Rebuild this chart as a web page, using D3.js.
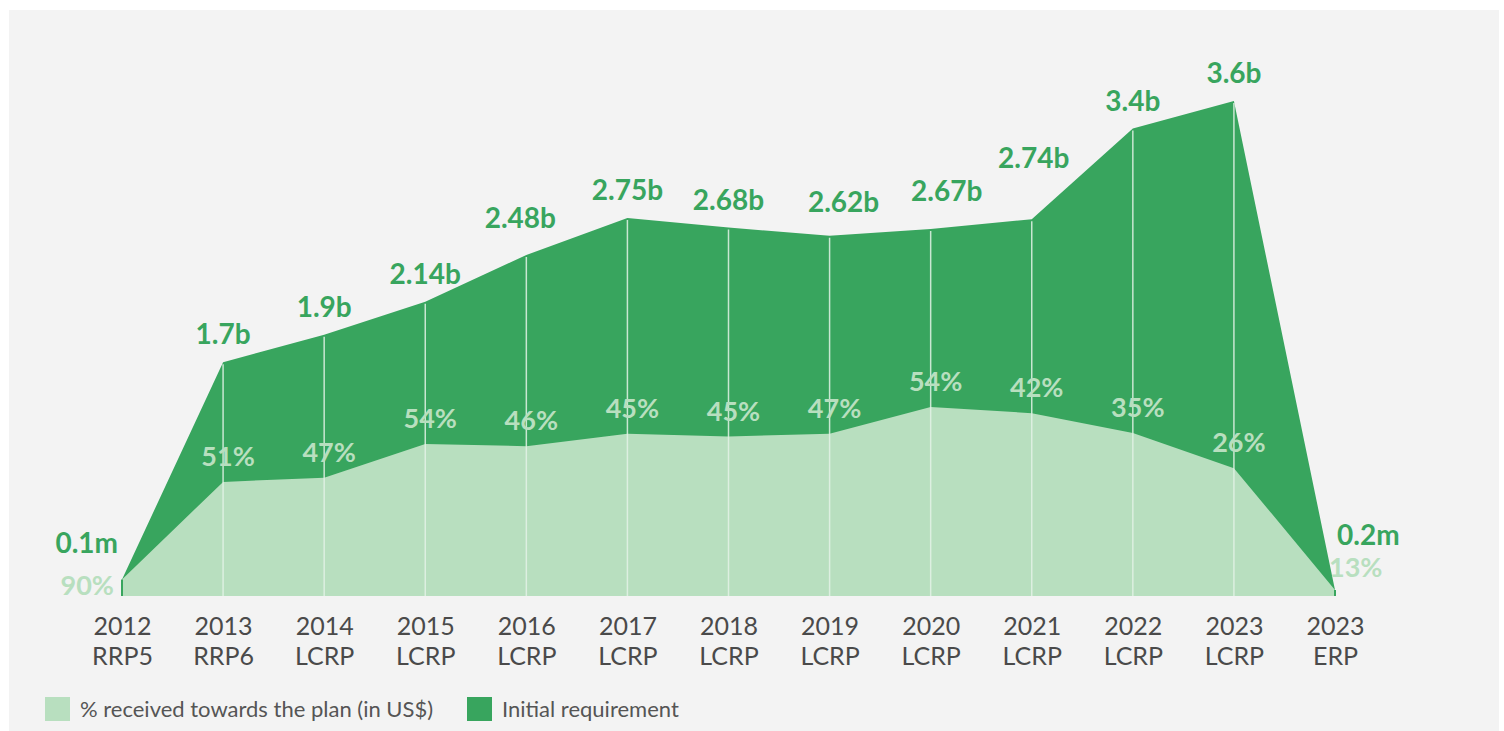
<!DOCTYPE html>
<html>
<head>
<meta charset="utf-8">
<script src="https://cdn.jsdelivr.net/npm/d3@7"></script>
<style>
  html, body { margin: 0; padding: 0; background: #ffffff; }
  svg { display: block; }
  text { font-family: Lato, "Open Sans", sans-serif; }
</style>
</head>
<body>
<svg id="chart" width="1504" height="731"></svg>
<script>
// ---- data ----
const years = ["2012","2013","2014","2015","2016","2017","2018","2019","2020","2021","2022","2023","2023"];
const plans = ["RRP5","RRP6","LCRP","LCRP","LCRP","LCRP","LCRP","LCRP","LCRP","LCRP","LCRP","LCRP","ERP"];
// initial requirement, US$ billions (as drawn)
const requirement = [0.12, 1.7, 1.9, 2.14, 2.48, 2.75, 2.68, 2.62, 2.67, 2.74, 3.4, 3.6, 0.044];
// amount received, US$ billions (as drawn)
const received = [0.12, 0.83, 0.86, 1.105, 1.09, 1.18, 1.16, 1.18, 1.375, 1.33, 1.185, 0.93, 0.044];
const requirementLabels = ["0.1m","1.7b","1.9b","2.14b","2.48b","2.75b","2.68b","2.62b","2.67b","2.74b","3.4b","3.6b","0.2m"];
const percentLabels = ["90%","51%","47%","54%","46%","45%","45%","47%","54%","42%","35%","26%","13%"];
const legendLabels = ["% received towards the plan (in US$)", "Initial requirement"];

// ---- layout / style ----
const DARK = "#38a55e";
const LIGHT = "#b8dfbf";
const BG = "#f3f3f3";
const AXIS_TEXT = "#4a4a4a";
// manual nudges for a few requirement labels (annotation placement only)
const reqNudge = { 4: [-6, -9], 7: [14, -6], 8: [16, -10], 9: [2, -33] };

const svg = d3.select("#chart");
svg.append("rect").attr("x", 9).attr("y", 10).attr("width", 1490).attr("height", 721).attr("fill", BG);

const idx = d3.range(years.length);
const x = d3.scalePoint().domain(idx).range([122, 1335]);
const y = d3.scaleLinear().domain([0, 4]).range([596, 46]);

const areaReq = d3.area().x(i => x(i)).y0(y(0)).y1(i => y(requirement[i]));
const areaRec = d3.area().x(i => x(i)).y0(y(0)).y1(i => y(received[i]));

svg.append("path").attr("d", areaReq(idx)).attr("fill", DARK);
svg.append("path").attr("d", areaRec(idx)).attr("fill", LIGHT);

// end edge lines (dark)
[0, idx.length - 1].forEach(i => {
  svg.append("line")
    .attr("x1", x(i)).attr("x2", x(i))
    .attr("y1", y(requirement[i])).attr("y2", y(0))
    .attr("stroke", DARK).attr("stroke-width", 2);
});

// vertical guide lines
svg.append("g").selectAll("line")
  .data(idx.slice(1, -1))
  .join("line")
  .attr("x1", i => x(i)).attr("x2", i => x(i))
  .attr("y1", i => y(requirement[i]) + 2).attr("y2", y(0))
  .attr("stroke", "#e3f2e6").attr("stroke-opacity", 0.85).attr("stroke-width", 1.5);

// requirement labels
const last = idx.length - 1;
svg.append("g").selectAll("text")
  .data(idx)
  .join("text")
  .attr("x", i => {
    if (i === 0) return x(i) - 4;
    if (i === last) return x(i) + 2;
    return x(i) + (reqNudge[i] ? reqNudge[i][0] : 0);
  })
  .attr("y", i => {
    if (i === 0) return y(requirement[i]) - 27;
    if (i === last) return y(requirement[i]) - 45;
    return y(requirement[i]) - 18 + (reqNudge[i] ? reqNudge[i][1] : 0);
  })
  .attr("text-anchor", i => i === 0 ? "end" : (i === last ? "start" : "middle"))
  .attr("font-size", 28).attr("font-weight", 700)
  .attr("fill", DARK)
  .text(i => requirementLabels[i]);

// percent labels
svg.append("g").selectAll("text")
  .data(idx)
  .join("text")
  .attr("x", i => {
    if (i === 0) return x(i) - 8;
    if (i === last) return x(i) - 6;
    return x(i) + 5;
  })
  .attr("y", i => {
    if (i === 0) return y(0) - 1;
    if (i === last) return y(received[i]) - 13;
    return y(received[i]) - 16;
  })
  .attr("text-anchor", i => i === 0 ? "end" : (i === last ? "start" : "middle"))
  .attr("font-size", 27).attr("font-weight", 700)
  .attr("fill", LIGHT)
  .text(i => percentLabels[i]);

// x axis (two-line category labels)
const xAxis = svg.append("g").attr("transform", `translate(0,${y(0)})`)
  .call(d3.axisBottom(x).tickSize(0).tickFormat(""));
xAxis.select(".domain").remove();
xAxis.selectAll(".tick").each(function(i) {
  const g = d3.select(this);
  g.append("text")
    .attr("fill", AXIS_TEXT).attr("font-size", 25)
    .attr("text-anchor", "middle")
    .attr("y", 39).text(years[i]);
  g.append("text")
    .attr("fill", AXIS_TEXT).attr("font-size", 25)
    .attr("text-anchor", "middle")
    .attr("y", 69).text(plans[i]);
});

// legend
const legend = svg.append("g").attr("transform", "translate(45,697)");
const legendColors = [LIGHT, DARK];
legendLabels.forEach((lab, k) => {
  const g = legend.append("g").attr("transform", `translate(${k === 0 ? 0 : 422},0)`);
  g.append("rect").attr("width", 25).attr("height", 24).attr("fill", legendColors[k]);
  g.append("text").attr("x", 35).attr("y", 20).attr("font-size", 22)
    .attr("fill", "#555555").text(lab);
});
</script>
</body>
</html>
